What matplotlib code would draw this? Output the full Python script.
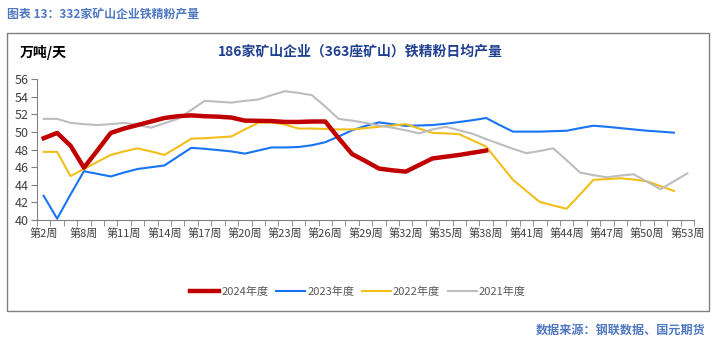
import numpy as np
import matplotlib
matplotlib.use("Agg")
import matplotlib.pyplot as plt
from matplotlib.patches import Rectangle

plt.rcParams['font.family'] = ['Noto Sans CJK SC', 'DejaVu Sans']

# categories: week numbers (weeks 3-5 are missing)
weeks = [2, 6, 7, 8, 9, 10, 11, 12, 13, 14, 15, 16, 17, 18, 19, 20, 21, 22, 23, 24,
         25, 26, 27, 28, 29, 30, 31, 32, 33, 34, 35, 36, 37, 38, 39, 40, 41, 42, 43,
         44, 45, 46, 47, 48, 49, 50, 51, 52, 53]
nan = np.nan

y2024 = [49.3, 49.9, 48.45, 45.95, 47.9, 49.9, 50.4, 50.8, 51.2, 51.6, 51.8, 51.9,
         51.8, 51.75, 51.65, 51.3, 51.28, 51.25, 51.15, 51.15, 51.2, 51.2, 49.3, 47.5,
         46.7, 45.85, 45.65, 45.5, 46.25, 47.0, 47.2, 47.4, 47.65, 47.9,
         nan, nan, nan, nan, nan, nan, nan, nan, nan, nan, nan, nan, nan, nan, nan]
y2023 = [42.75, 40.15, 42.9, 45.55, 45.25, 44.95, 45.4, 45.8, 46.0, 46.2, 47.2, 48.2,
         48.1, 47.95, 47.8, 47.55, 47.9, 48.25, 48.25, 48.3, 48.5, 48.85, 49.5, 50.2,
         50.7, 51.1, 50.9, 50.7, 50.75, 50.8, 50.95, 51.15, 51.35, 51.6, 50.8, 50.05,
         50.05, 50.05, 50.1, 50.15, 50.45, 50.72, 50.6, 50.45, 50.3, 50.15, 50.05, 49.93, nan]
y2022 = [47.75, 47.75, 45.0, 45.8, 46.6, 47.4, 47.8, 48.15, 47.8, 47.4, 48.3, 49.25,
         49.3, 49.4, 49.5, 50.3, 51.05, 51.1, 50.85, 50.4, 50.4, 50.35, 50.3, 50.3,
         50.45, 50.6, 50.75, 50.9, 50.4, 49.9, 49.85, 49.75, 49.05, 48.35, 46.45, 44.57,
         43.3, 42.05, 41.65, 41.28, 42.9, 44.57, 44.65, 44.75, 44.6, 44.4, 43.85, 43.3, nan]
y2021 = [51.5, 51.5, 51.05, 50.9, 50.8, 50.9, 51.05, 50.8, 50.5, 51.0, 51.5, 52.5,
         53.55, 53.45, 53.35, 53.55, 53.7, 54.2, 54.65, 54.45, 54.2, 52.9, 51.5, 51.3,
         51.05, 50.75, 50.5, 50.2, 49.85, 50.3, 50.6, 50.2, 49.8, 49.2, 48.65, 48.1,
         47.6, 47.85, 48.15, 46.8, 45.4, 45.1, 44.86, 45.05, 45.2, 44.35, 43.5, 44.4, 45.3]

W, H = 715, 343
fig = plt.figure(figsize=(W / 100, H / 100), dpi=100)
ax = fig.add_axes([37 / W, 1 - 220 / H, 657 / W, 140.7 / H])

x = np.arange(len(weeks))
ax.plot(x, y2024, color='#C00000', lw=3.2, label='2024年度', zorder=5)
ax.plot(x, y2023, color='#1874F5', lw=1.5, label='2023年度')
ax.plot(x, y2022, color='#F2BE1A', lw=1.5, label='2022年度')
ax.plot(x, y2021, color='#BDBDBD', lw=1.5, label='2021年度')

ax.set_xlim(-0.5, len(weeks) - 0.5)
ax.set_ylim(40, 56)
ax.set_yticks(range(40, 57, 2))
ax.tick_params(axis='y', labelsize=9, colors='#404040', length=4, color='#808080', pad=2)

lab_idx = list(range(0, len(weeks), 3))
ax.set_xticks(lab_idx)
ax.set_xticklabels(['第%d周' % weeks[i] for i in lab_idx])
ax.set_xticks(np.arange(-0.5, len(weeks)), minor=True)
ax.tick_params(axis='x', which='major', length=0, labelsize=8, colors='#404040', pad=6)
ax.tick_params(axis='x', which='minor', length=4, color='#808080')

for s in ['top', 'right']:
    ax.spines[s].set_visible(False)
for s in ['left', 'bottom']:
    ax.spines[s].set_color('#808080')

fig.patches.append(Rectangle((7 / W, 1 - 311 / H), 702 / W, 278 / H, transform=fig.transFigure,
                             fill=False, edgecolor='#808080', lw=1))

fig.text(7 / W, 1 - 15 / H, '图表 13：332家矿山企业铁精粉产量', fontsize=8.6, fontweight='bold',
         color='#4F78C0', ha='left', va='center')
fig.text(20 / W, 1 - 53 / H, '万吨/天', fontsize=10, fontweight='bold', color='black',
         ha='left', va='center')
fig.text(360 / W, 1 - 52 / H, '186家矿山企业（363座矿山）铁精粉日均产量', fontsize=10,
         fontweight='bold', color='#1F3F8F', ha='center', va='center')
fig.text(705 / W, 1 - 330 / H, '数据来源：钢联数据、国元期货', fontsize=8.7, fontweight='bold',
         color='#4F78C0', ha='right', va='center')

leg = fig.legend(loc='center', bbox_to_anchor=(358 / W, 1 - 292 / H), ncol=4, frameon=False,
                 fontsize=8, handlelength=2.6, handletextpad=0.2, columnspacing=0.7)
for t in leg.get_texts():
    t.set_color('#595959')

fig.savefig('out.png', dpi=100)
